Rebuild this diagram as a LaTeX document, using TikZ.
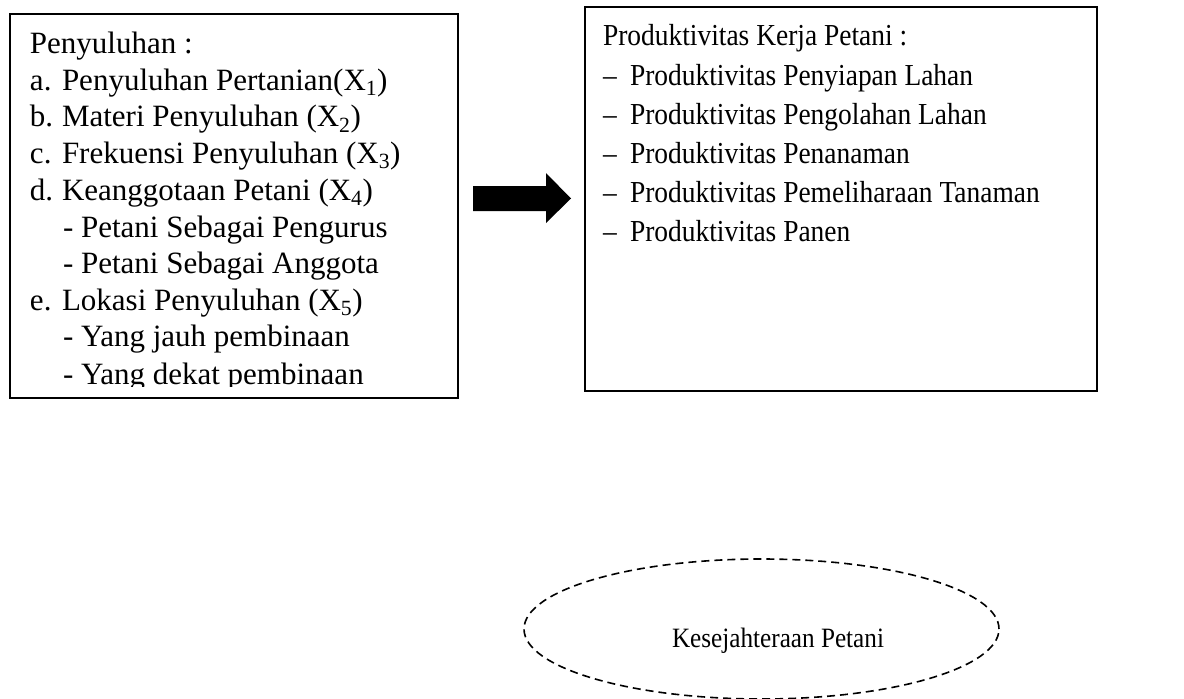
\documentclass[tikz,border=0pt]{standalone}
\usepackage{fontspec}
\setmainfont{Liberation Serif}
\newfontfamily\condfont[FakeStretch=0.9]{Liberation Serif}
\tikzset{
  boxline/.style={draw=black, line width=1.8pt},
  txt/.style={anchor=base west, inner sep=0pt, outer sep=0pt, font=\fontsize{31}{37}\selectfont},
  rtxt/.style={anchor=base west, inner sep=0pt, outer sep=0pt, font=\condfont\fontsize{30.5}{37}\selectfont},
  dashell/.style={draw=black, line width=1.6pt, dash pattern=on 8pt off 5pt},
}
\begin{document}
\begin{tikzpicture}[x=1pt,y=-1pt]
\useasboundingbox (0,0) rectangle (1184,699);
% left box
\coordinate (L1) at (10,14);
\coordinate (L2) at (458,398);
\draw[boxline] (L1) rectangle (L2);
\begin{scope}
\clip (11,15) rectangle (457,386);
\node[txt] (l0) at (30,53) {Penyuluhan :};
\node[txt] (la) at (30,90) {a.};
\node[txt] (lat) at (62,90) {Penyuluhan Pertanian(X\textsubscript{1})};
\node[txt] (lb) at (30,126.5) {b.};
\node[txt] (lbt) at (62,126.5) {Materi Penyuluhan (X\textsubscript{2})};
\node[txt] (lc) at (30,163) {c.};
\node[txt] (lct) at (62,163) {Frekuensi Penyuluhan (X\textsubscript{3})};
\node[txt] (ld) at (30,200) {d.};
\node[txt] (ldt) at (62,200) {Keanggotaan Petani (X\textsubscript{4})};
\node[txt] (ld1) at (63,237) {- Petani Sebagai Pengurus};
\node[txt] (ld2) at (63,273.5) {- Petani Sebagai Anggota};
\node[txt] (le) at (30,310) {e.};
\node[txt] (let) at (62,310) {Lokasi Penyuluhan (X\textsubscript{5})};
\node[txt] (le1) at (63,346.5) {- Yang jauh pembinaan};
\node[txt] (le2) at (63,384) {- Yang dekat pembinaan};
\end{scope}
% right box
\coordinate (R1) at (585,7);
\coordinate (R2) at (1097,391);
\draw[boxline] (R1) rectangle (R2);
\node[rtxt] (r0) at (603,45) {Produktivitas Kerja Petani :};
\node[rtxt] (r1d) at (603,85) {–};
\node[rtxt] (r1) at (630,85) {Produktivitas Penyiapan Lahan};
\node[rtxt] (r2d) at (603,124) {–};
\node[rtxt] (r2) at (630,124) {Produktivitas Pengolahan Lahan};
\node[rtxt] (r3d) at (603,163) {–};
\node[rtxt] (r3) at (630,163) {Produktivitas Penanaman};
\node[rtxt] (r4d) at (603,202) {–};
\node[rtxt] (r4) at (630,202) {Produktivitas Pemeliharaan Tanaman};
\node[rtxt] (r5d) at (603,241) {–};
\node[rtxt] (r5) at (630,241) {Produktivitas Panen};
% block arrow
\fill[black] (473,186) -- (546,186) -- (546,173) -- (571,198.5) -- (546,223) -- (546,211) -- (473,211) -- cycle;
% ellipse
\draw[dashell] (761.5,629) ellipse [x radius=237.5pt, y radius=70pt];
\node[anchor=base, inner sep=0pt, font=\condfont\fontsize{28}{34}\selectfont] (kes) at (778,647) {Kesejahteraan Petani};
\end{tikzpicture}
\end{document}
